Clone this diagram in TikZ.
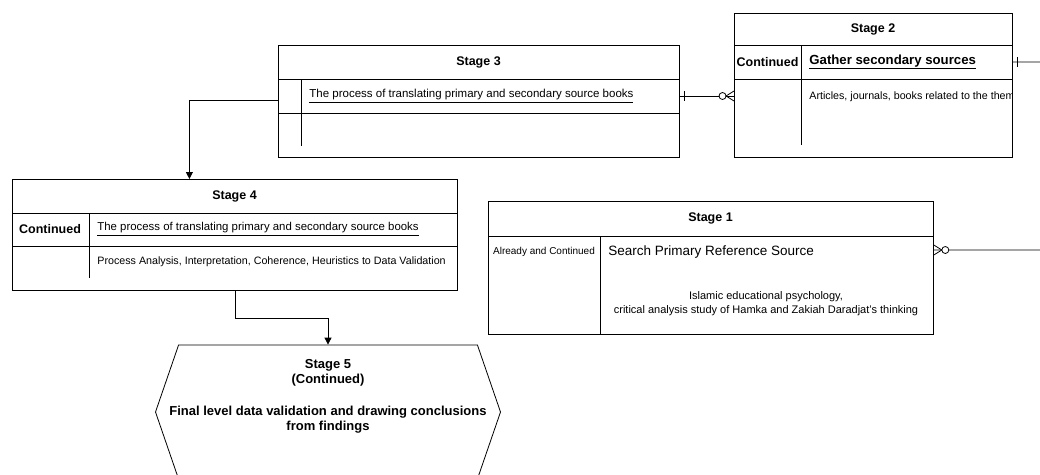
\documentclass[tikz,border=0pt]{standalone}
\usepackage{fontspec}
\setmainfont{Liberation Sans}
\usetikzlibrary{positioning,calc,arrows.meta,shapes.symbols}
\tikzset{stage box/.style={draw,rectangle,anchor=north west,inner sep=0pt},
  stage title/.style={font=\fontsize{12.5}{14}\selectfont\bfseries},
  row text/.style={anchor=west,inner sep=0pt,font=\fontsize{11}{13}\selectfont},
  one mark/.pic={\draw (0,-5) -- (0,5);},
  many mark/.pic={\draw (0,-5) -- (-8,0) -- (0,5); \draw[fill=white] (-11.5,0) circle[radius=3.5pt];},
  many mark left/.pic={\draw (0,-5) -- (8,0) -- (0,5); \draw[fill=white] (11.5,0) circle[radius=3.5pt];}}

\begin{document}
\begin{tikzpicture}[x=1pt,y=-1pt,>={Triangle[length=7pt,width=7pt]},line width=0.8pt]
  \useasboundingbox (0,0) rectangle (1040,474);
  % stage boxes
  \node[stage box,minimum width=401pt,minimum height=112pt] (s3) at (278,45) {};
  \node[stage box,minimum width=278pt,minimum height=144pt] (s2) at (734,13) {};
  \node[stage box,minimum width=445pt,minimum height=111pt] (s4) at (12,179) {};
  \node[stage box,minimum width=445pt,minimum height=133pt] (s1) at (488,201) {};
  \node[draw,signal,signal to=east and west,signal pointer angle=142,
        minimum width=345pt,minimum height=134pt,inner sep=0pt] (s5) at (328,412) {};

  % stage 3
  \draw ([yshift=-34pt]s3.north west) -- ([yshift=-34pt]s3.north east);
  \draw ([yshift=-68pt]s3.north west) -- ([yshift=-68pt]s3.north east);
  \draw ([xshift=23pt,yshift=-34pt]s3.north west) -- ([xshift=23pt,yshift=-101pt]s3.north west);
  \node[stage title] at (478.5,62) {Stage 3};
  \node[row text,font=\fontsize{11.5}{13}\selectfont] (s3r1) at (309,96) {\underline{The process of translating primary and secondary source books}};

  % stage 2
  \draw ([yshift=-32pt]s2.north west) -- ([yshift=-32pt]s2.north east);
  \draw ([yshift=-66pt]s2.north west) -- ([yshift=-66pt]s2.north east);
  \draw ([xshift=67pt,yshift=-32pt]s2.north west) -- ([xshift=67pt,yshift=-132pt]s2.north west);
  \node[stage title] at (873,29) {Stage 2};
  \node[stage title] (c2) at (767.5,62) {Continued};
  \node[row text,font=\fontsize{13.2}{15}\selectfont\bfseries] (s2r1) at (809,62) {\underline{Gather secondary sources}};
  \begin{scope}
    \clip (s2.north west) rectangle (s2.south east);
    \node[row text,font=\fontsize{10.7}{13}\selectfont] (s2r2) at (809,97) {Articles, journals, books related to the them};
  \end{scope}

  % stage 4
  \draw ([yshift=-34pt]s4.north west) -- ([yshift=-34pt]s4.north east);
  \draw ([yshift=-67pt]s4.north west) -- ([yshift=-67pt]s4.north east);
  \draw ([xshift=77pt,yshift=-34pt]s4.north west) -- ([xshift=77pt,yshift=-99pt]s4.north west);
  \node[stage title] at (234.5,196) {Stage 4};
  \node[stage title] (c4) at (50,229) {Continued};
  \node[row text,font=\fontsize{11.4}{13}\selectfont] (s4r1) at (97,229) {\underline{The process of translating primary and secondary source books}};
  \node[row text,font=\fontsize{10.7}{13}\selectfont] (s4r2) at (97,262) {Process Analysis, Interpretation, Coherence, Heuristics to Data Validation};

  % stage 1
  \draw ([yshift=-35pt]s1.north west) -- ([yshift=-35pt]s1.north east);
  \draw ([xshift=112pt,yshift=-35pt]s1.north west) -- ([xshift=112pt]s1.south west);
  \node[stage title] at (710.5,218) {Stage 1};
  \node[font=\fontsize{10}{12}\selectfont,inner sep=0pt] (c1) at (544,252) {Already and Continued};
  \node[row text,font=\fontsize{13.5}{15}\selectfont] (s1r1) at (608,252) {Search Primary Reference Source};
  \node[font=\fontsize{11}{14}\selectfont,align=center] (s1r2) at (766,304)
    {Islamic educational psychology,\\critical analysis study of Hamka and Zakiah Daradjat's thinking};

  % stage 5
  \node[align=center,font=\fontsize{13}{15}\selectfont\bfseries] (s5t) at (328,396)
    {Stage 5\\(Continued)\\[17pt]Final level data validation and drawing conclusions\\from findings};

  % connectors
  \draw[->] ([yshift=-4pt]s3.west |- s3r1) -| ([xshift=-45.5pt]s4.north);
  \draw[->] (s4.south) -- ++(0,28) -| (s5.north);
  \draw (s3.east |- s3r1) -- (s2.west |- s3r1);
  \pic at ([xshift=5pt]s3.east |- s3r1) {one mark};
  \pic at (s2.west |- s3r1) {many mark};
  \draw[rounded corners=6pt] (s2.east |- s2r1) -- (1046,62) -- (1046,250) -- (s1.east |- 0,250);
  \pic at ([xshift=5pt]s2.east |- s2r1) {one mark};
  \pic at (s1.east |- 0,250) {many mark left};
\end{tikzpicture}
\end{document}
